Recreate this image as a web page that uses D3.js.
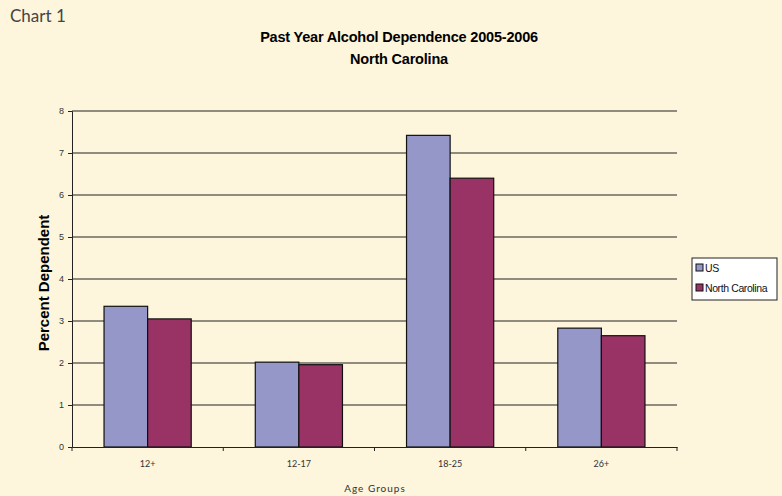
<!DOCTYPE html>
<html><head><meta charset="utf-8">
<script src="https://cdn.jsdelivr.net/npm/d3@7"></script>
<style>
html,body{margin:0;padding:0;background:#FDF5DC;}
svg{display:block;}
</style></head>
<body>
<svg id="chart" width="782" height="496"></svg>
<script>
const categories = ["12+", "12-17", "18-25", "26+"];
const seriesNames = ["US", "North Carolina"];
const usValues = [3.35, 2.02, 7.42, 2.83];
const ncValues = [3.05, 1.96, 6.40, 2.65];
const yTicks = [0, 1, 2, 3, 4, 5, 6, 7, 8];
const colors = ["#9497C8", "#993366"];

(function () {
const svg = d3.select("#chart");
const pLeft = 72, pRight = 677, pTop = 111, pBottom = 447;

const x = d3.scaleBand().domain(categories).range([pLeft, pRight]).paddingInner(0).paddingOuter(0);
const xs = d3.scaleBand().domain(seriesNames).range([0, x.bandwidth()]).paddingInner(0).paddingOuter(0.735);
const y = d3.scaleLinear().domain([0, 8]).range([pBottom, pTop]);

svg.append("text").attr("x", 10).attr("y", 22).attr("font-family", "Lato, 'Open Sans', sans-serif")
  .attr("font-size", 17).attr("fill", "#444").text("Chart 1");
svg.append("text").attr("x", 399).attr("y", 42).attr("text-anchor", "middle")
  .attr("font-family", "'Liberation Sans', Arial, sans-serif").attr("font-weight", "bold").attr("font-size", 14.5)
  .attr("letter-spacing", -0.2).attr("fill", "#000").text("Past Year Alcohol Dependence 2005-2006");
svg.append("text").attr("x", 399).attr("y", 64).attr("text-anchor", "middle")
  .attr("font-family", "'Liberation Sans', Arial, sans-serif").attr("font-weight", "bold").attr("font-size", 14.5)
  .attr("letter-spacing", -0.2).attr("fill", "#000").text("North Carolina");

// gridlines
svg.append("g").selectAll("line").data(yTicks.filter(d => d > 0)).join("line")
  .attr("x1", pLeft).attr("x2", pRight).attr("y1", d => y(d)).attr("y2", d => y(d))
  .attr("stroke", "#222").attr("stroke-width", 1.2);

// y axis
const yAxis = d3.axisLeft(y).tickValues(yTicks).tickSize(4).tickPadding(4).tickFormat(d3.format("d"));
const gy = svg.append("g").attr("transform", `translate(${pLeft},0)`).call(yAxis);
gy.select(".domain").attr("stroke", "#222");
gy.selectAll(".tick line").attr("stroke", "#222");
gy.selectAll("text").attr("font-family", "'Liberation Sans', Arial, sans-serif").attr("font-size", 9).attr("fill", "#333");

// bars
const data = categories.map((c, i) => ({ c, vals: [usValues[i], ncValues[i]] }));
const groups = svg.append("g").selectAll("g").data(data).join("g")
  .attr("transform", d => `translate(${x(d.c)},0)`);
groups.selectAll("rect").data(d => d.vals.map((v, j) => ({ v, s: seriesNames[j], j }))).join("rect")
  .attr("x", d => xs(d.s)).attr("width", xs.bandwidth())
  .attr("y", d => y(d.v)).attr("height", d => y(0) - y(d.v))
  .attr("fill", d => colors[d.j]).attr("stroke", "#111").attr("stroke-width", 1.2);

// x axis
const xAxis = d3.axisBottom(x).tickSize(0).tickPadding(14);
const gx = svg.append("g").attr("transform", `translate(0,${pBottom})`).call(xAxis);
gx.select(".domain").attr("stroke", "#222");
gx.selectAll("text").attr("font-family", "Lato, 'Open Sans', sans-serif").attr("font-size", 9).attr("fill", "#333");
const bounds = categories.map(c => x(c)).concat([pRight]);
svg.append("g").selectAll("line").data(bounds).join("line")
  .attr("x1", d => d).attr("x2", d => d).attr("y1", pBottom).attr("y2", pBottom + 4)
  .attr("stroke", "#222");

// axis titles
svg.append("text").attr("transform", `translate(49,${(pTop + pBottom) / 2 + 4}) rotate(-90)`).attr("text-anchor", "middle")
  .attr("font-family", "'Liberation Sans', Arial, sans-serif").attr("font-weight", "bold").attr("font-size", 15)
  .attr("fill", "#000").text("Percent Dependent");
svg.append("text").attr("x", 375).attr("y", 492).attr("text-anchor", "middle")
  .attr("font-family", "Lato, 'Open Sans', sans-serif").attr("font-size", 10).attr("letter-spacing", 1)
  .attr("fill", "#333").text("Age Groups");

// legend
const lg = svg.append("g");
lg.append("rect").attr("x", 692).attr("y", 258).attr("width", 85).attr("height", 42)
  .attr("fill", "#FFFFFF").attr("stroke", "#222").attr("stroke-width", 1);
const items = lg.selectAll("g").data(seriesNames).join("g")
  .attr("transform", (d, i) => `translate(696,${264 + i * 20})`);
items.append("rect").attr("width", 7).attr("height", 7).attr("fill", (d, i) => colors[i]).attr("stroke", "#111");
items.append("text").attr("x", 9).attr("y", 8).attr("font-family", "'Liberation Sans', Arial, sans-serif")
  .attr("font-size", 10.5).attr("letter-spacing", -0.4).attr("fill", "#111").text(d => d);
})();
</script>
</body></html>
